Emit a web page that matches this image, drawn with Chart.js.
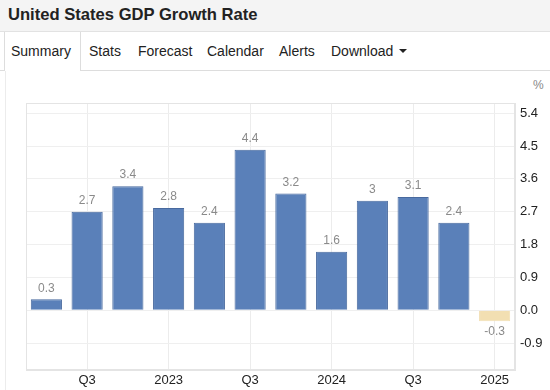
<!DOCTYPE html>
<html>
<head>
<meta charset="utf-8">
<script src="https://cdn.jsdelivr.net/npm/chart.js@4"></script>
<style>
  html, body { margin:0; padding:0; width:550px; height:390px; background:#fff; overflow:hidden;
    font-family:"Liberation Sans", Arial, Helvetica, sans-serif; }
  #hdr { position:absolute; left:0; top:0; width:550px; height:31px; background:#f4f4f4; border-bottom:1px solid #e2e2e2; }
  #title { position:absolute; left:8px; top:5px; font-size:16.6px; font-weight:bold; color:#222; white-space:nowrap; }
  #tabline { position:absolute; left:0; top:70px; width:550px; height:1px; background:#dddddd; }
  #tabactive { position:absolute; left:4px; top:32px; width:75px; height:39px; background:#fff;
    border-left:1px solid #dddddd; border-right:1px solid #dddddd; }
  .tab { position:absolute; top:43px; font-size:14px; color:#222; white-space:nowrap; }
  #caret { position:absolute; left:399px; top:49px; width:0; height:0; border-left:4px solid transparent;
    border-right:4px solid transparent; border-top:4px solid #222; }
  #contentl { position:absolute; left:5px; top:71px; width:1px; height:319px; background:#ececec; }
  #pct { position:absolute; left:533px; top:78px; font-size:12px; color:#888; }
  #wrap { position:absolute; left:0; top:72px; width:550px; height:318px; }
</style>
</head>
<body>
<div id="hdr"><div id="title">United States GDP Growth Rate</div></div>
<div id="tabline"></div>
<div id="tabactive"></div>
<div class="tab" style="left:11px">Summary</div>
<div class="tab" style="left:89px">Stats</div>
<div class="tab" style="left:138px">Forecast</div>
<div class="tab" style="left:207px">Calendar</div>
<div class="tab" style="left:279px">Alerts</div>
<div class="tab" style="left:331px">Download</div>
<div id="caret"></div>
<div id="contentl"></div>
<div id="pct">%</div>
<div id="wrap"><canvas id="c" width="550" height="318"></canvas></div>
<script>
const quarters = ["2022 Q2","2022 Q3","2022 Q4","2023 Q1","2023 Q2","2023 Q3","2023 Q4","2024 Q1","2024 Q2","2024 Q3","2024 Q4","2025 Q1"];
const axisLabels = ["", "Q3", "", "2023", "", "Q3", "", "2024", "", "Q3", "", "2025"];
const gdpGrowth = [0.3, 2.7, 3.4, 2.8, 2.4, 4.4, 3.2, 1.6, 3.0, 3.1, 2.4, -0.3];
const yTicks = [-0.9, 0.0, 0.9, 1.8, 2.7, 3.6, 4.5, 5.4];

const barColors = gdpGrowth.map(v => v < 0 ? '#f2dfb2' : '#5a80b9');
const borderColors = gdpGrowth.map(v => v < 0 ? '#f2dfb2' : '#48699e');

const valueLabels = {
  id: 'valueLabels',
  afterDatasetsDraw(chart) {
    const ctx = chart.ctx;
    const meta = chart.getDatasetMeta(0);
    ctx.save();
    ctx.font = '12px "Liberation Sans", Arial, sans-serif';
    ctx.fillStyle = '#8a8a8a';
    ctx.textAlign = 'center';
    ctx.textBaseline = 'middle';
    meta.data.forEach((bar, i) => {
      const v = gdpGrowth[i];
      const y = v < 0 ? bar.y + 11 : bar.y - 11;
      ctx.fillText(String(v), bar.x, y);
    });
    ctx.restore();
  }
};

new Chart(document.getElementById('c'), {
  type: 'bar',
  data: {
    labels: quarters,
    datasets: [{
      data: gdpGrowth,
      backgroundColor: barColors,
      borderColor: borderColors,
      borderWidth: 1,
      barPercentage: 0.78,
      categoryPercentage: 0.98
    }]
  },
  options: {
    responsive: false,
    animation: false,
    layout: { padding: { left: 26, top: 31, right: 0, bottom: 0 } },
    plugins: { legend: { display: false }, tooltip: { enabled: false } },
    scales: {
      x: {
        offset: true,
        grid: {
          offset: false,
          drawTicks: false,
          color: ctx => (ctx.index !== undefined && axisLabels[ctx.index]) ? '#ececec' : 'rgba(0,0,0,0)'
        },
        border: { display: true, color: '#e4e4e4' },
        ticks: {
          autoSkip: false,
          maxRotation: 0,
          padding: 2,
          color: '#222',
          font: { size: 13, family: '"Liberation Sans", Arial, sans-serif' },
          callback: (v, i) => axisLabels[i]
        }
      },
      y: {
        position: 'right',
        min: -1.65,
        max: 5.68,
        afterBuildTicks: s => { s.ticks = yTicks.map(v => ({ value: v })); },
        afterFit: s => { s.width = 35; },
        grid: { drawTicks: false, color: '#efefef' },
        border: { display: true, color: '#e4e4e4' },
        ticks: {
          padding: 5,
          color: '#222',
          font: { size: 13, family: '"Liberation Sans", Arial, sans-serif' },
          callback: v => v.toFixed(1)
        }
      }
    }
  },
  plugins: [valueLabels, {
    id: 'frame',
    beforeDatasetsDraw(chart) {
      const a = chart.chartArea, ctx = chart.ctx;
      ctx.save();
      ctx.strokeStyle = '#e4e4e4';
      ctx.lineWidth = 1;
      ctx.strokeRect(Math.round(a.left) + 0.5, Math.round(a.top) + 0.5, Math.round(a.right - a.left) - 1, Math.round(a.bottom - a.top) - 1);
      ctx.restore();
    }
  }]
});
</script>
</body>
</html>
